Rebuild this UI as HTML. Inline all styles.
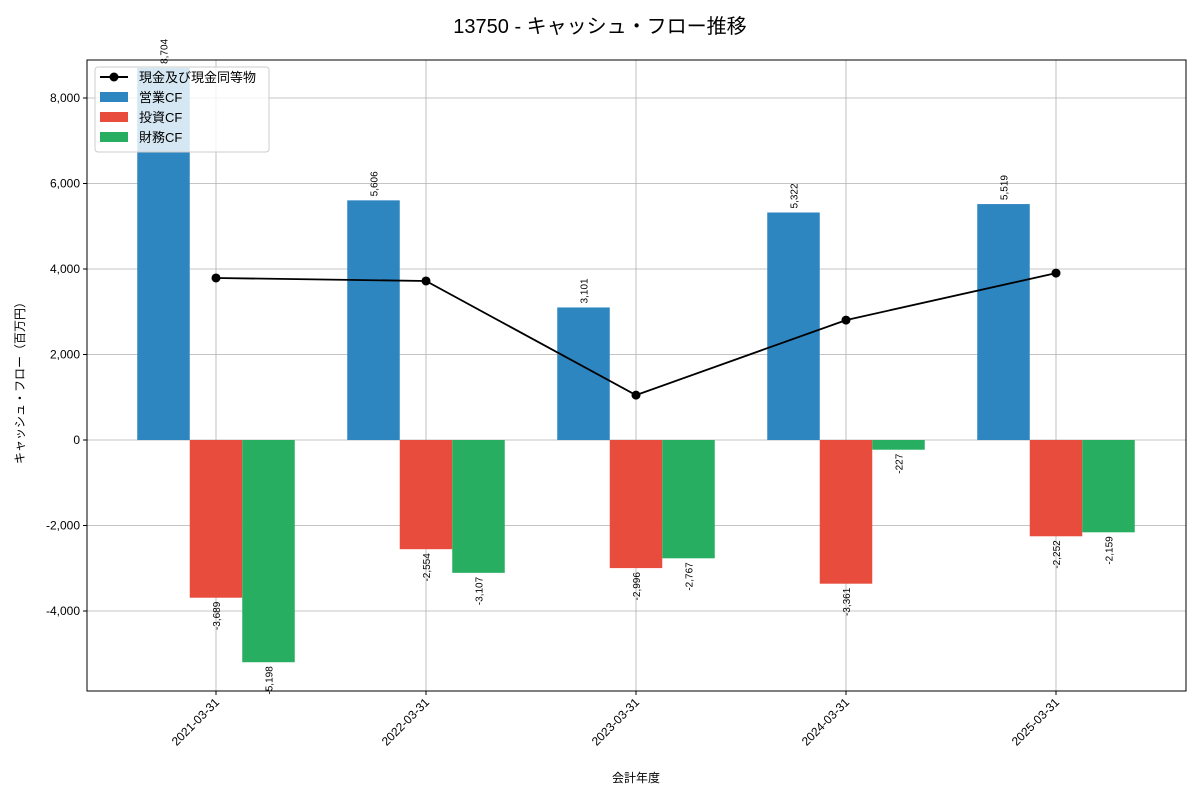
<!DOCTYPE html>
<html><head><meta charset="utf-8"><style>
body{margin:0;background:#fff;}
svg{display:block;font-family:"Liberation Sans","Noto Sans CJK JP",sans-serif;}
</style></head><body>
<svg id="chart" width="1200" height="800">
<text x="600" y="33" text-anchor="middle" font-size="20">13750 - キャッシュ・フロー推移</text>
<g id="grid"></g>
<g id="bars"></g>
<g id="line"></g>
<rect x="87" y="60" width="1099" height="631" fill="none" stroke="#000" stroke-width="1"/>
<g id="axes"></g>
<text x="636" y="782" text-anchor="middle" font-size="12">会計年度</text>
<text transform="translate(24,380) rotate(-90)" text-anchor="middle" font-size="12">キャッシュ・フロー（百万円）</text>
<g>
<rect x="95" y="67" width="174" height="85" fill="#fff" fill-opacity="0.8" stroke="#ccc" rx="3"/>
<g><line x1="100" y1="77" x2="128" y2="77" stroke="#000" stroke-width="2"/><circle cx="114" cy="77" r="4.5"/><text x="139" y="82" font-size="13">現金及び現金同等物</text></g>
<g><rect x="100" y="92" width="28" height="10" fill="#2e86c1"/><text x="139" y="102" font-size="13">営業CF</text></g>
<g><rect x="100" y="112" width="28" height="10" fill="#e74c3c"/><text x="139" y="122" font-size="13">投資CF</text></g>
<g><rect x="100" y="132" width="28" height="10" fill="#27ae60"/><text x="139" y="142" font-size="13">財務CF</text></g>
</g>
</svg>
<script>
const categories=["2021-03-31","2022-03-31","2023-03-31","2024-03-31","2025-03-31"];
const operatingCF=[8704,5606,3101,5322,5519];
const investingCF=[-3689,-2554,-2996,-3361,-2252];
const financingCF=[-5198,-3107,-2767,-227,-2159];
const cashBalance=[3790,3720,1050,2805,3905];
const yTicks=[-4000,-2000,0,2000,4000,6000,8000];
const NS="http://www.w3.org/2000/svg";
const L=87,R=1186,T=60,B=691,yMin=-5871,yMax=8889;
function y(v){return B-(v-yMin)/(yMax-yMin)*(B-T);}
function xc(i){return 216+i*210;}
const bw=52.5;
function mk(tag,attrs,parent){const e=document.createElementNS(NS,tag);for(const k in attrs)e.setAttribute(k,attrs[k]);document.getElementById(parent).appendChild(e);return e;}
function fmt(v){return v.toLocaleString("en-US");}
yTicks.forEach(t=>{
 const g=mk("line",{x1:L,x2:R,y1:y(t),y2:y(t),stroke:"#b0b0b0","stroke-width":0.8},"grid");
 
 
 mk("line",{x1:L-4,x2:L,y1:y(t),y2:y(t),stroke:"#000"},"axes");
 const tx=mk("text",{x:L-7,y:y(t)+4,"text-anchor":"end","font-size":12},"axes");
 tx.textContent=fmt(t);
 
 
});
categories.forEach((c,i)=>{
 const g=mk("line",{x1:xc(i),x2:xc(i),y1:T,y2:B,stroke:"#b0b0b0","stroke-width":0.8},"grid");
 
 
 mk("line",{x1:xc(i),x2:xc(i),y1:B,y2:B+4,stroke:"#000"},"axes");
 const tx=mk("text",{transform:`translate(${xc(i)+4},${B+12}) rotate(-45)`,"text-anchor":"end","font-size":12},"axes");
 tx.textContent=c;
 
 
});
const series=[[operatingCF,"#2e86c1",-1,"operating"],[investingCF,"#e74c3c",0,"investing"],[financingCF,"#27ae60",1,"financing"]];
series.forEach(([vals,col,off,nm])=>{
 vals.forEach((v,i)=>{
  const cx=xc(i)+off*bw;
  const top=Math.min(y(v),y(0)),h=Math.abs(y(v)-y(0));
  const r=mk("rect",{x:cx-bw/2,y:top,width:bw,height:h,fill:col},"bars");
  
  
  const ly=v>=0?y(v)-4:y(v)+4;
  const t=mk("text",{transform:`translate(${cx+4},${ly}) rotate(-90)`,"text-anchor":v>=0?"start":"end","font-size":10},"bars");
  t.textContent=fmt(v);
  
  
 });
});
const pts=cashBalance.map((v,i)=>xc(i)+","+y(v)).join(" ");
const pl=mk("polyline",{points:pts,fill:"none",stroke:"#000","stroke-width":1.8},"line");


cashBalance.forEach((v,i)=>{
 const c=mk("circle",{cx:xc(i),cy:y(v),r:4.5,fill:"#000"},"line");
 
 
});
</script>
</body></html>
